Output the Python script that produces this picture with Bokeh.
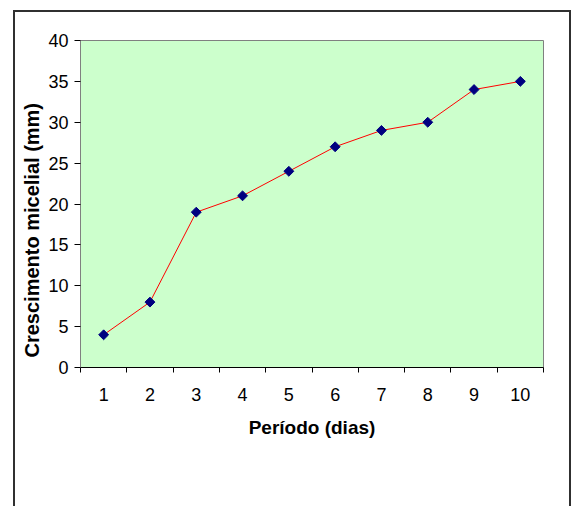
from bokeh.plotting import figure
from bokeh.models import FixedTicker, Range1d, Title
from bokeh.embed import file_html
from bokeh.resources import INLINE
import math

dias = [1, 2, 3, 4, 5, 6, 7, 8, 9, 10]
crescimento = [4, 8, 19, 21, 24, 27, 29, 30, 34, 35]
x_tick_labels = ["1", "2", "3", "4", "5", "6", "7", "8", "9", "10"]
y_ticks = [0, 5, 10, 15, 20, 25, 30, 35, 40]
x_title = "Período (dias)"
y_title = "Crescimento micelial (mm)"

FONT = "Liberation Sans"

p = figure(width=558, height=496, output_backend="svg", toolbar_location=None,
           x_range=Range1d(0.5, 10.5), y_range=Range1d(0, 40),
           min_border_left=65, min_border_top=28, min_border_right=30, min_border_bottom=141)
p.margin = (10, 0, 0, 13)
p.styles = {"border-top": "2px solid #303030", "border-left": "2px solid #303030",
            "border-right": "2px solid #303030"}

p.background_fill_color = "#CCFFCC"
p.border_fill_color = "white"
p.outline_line_color = "#808080"
p.outline_line_width = 1
p.xgrid.visible = False
p.ygrid.visible = False

p.line(dias, crescimento, line_color="#FF0000", line_width=1)
p.scatter(dias, crescimento, marker="square", angle=math.pi / 4, size=7,
          fill_color="#000080", line_color="#000080")

xa = p.xaxis[0]
xa.ticker = FixedTicker(ticks=dias, minor_ticks=[d - 0.5 for d in dias] + [10.5])
xa.major_label_overrides = {d: lab for d, lab in zip(dias, x_tick_labels)}
xa.major_tick_out = 0
xa.major_tick_in = 0
xa.minor_tick_out = 5
xa.minor_tick_in = 0
xa.minor_tick_line_color = "black"
xa.axis_line_color = "black"
xa.major_label_text_font = FONT
xa.major_label_text_font_size = "18px"
xa.major_label_text_color = "black"
xa.major_label_standoff = 15
xa.axis_label = x_title
xa.axis_label_text_font = FONT
xa.axis_label_text_font_size = "19px"
xa.axis_label_text_font_style = "bold"
xa.axis_label_text_color = "black"
xa.axis_label_standoff = 13

ya = p.yaxis[0]
ya.ticker = FixedTicker(ticks=y_ticks, minor_ticks=[])
ya.major_tick_out = 6
ya.major_tick_in = 0
ya.major_tick_line_color = "black"
ya.axis_line_color = "#808080"
ya.major_label_text_font = FONT
ya.major_label_text_font_size = "18px"
ya.major_label_text_color = "black"
ya.major_label_standoff = 6

t = Title(text=y_title, text_font=FONT, text_font_size="20px", text_font_style="bold",
          text_color="black", align="left", offset=10, standoff=6)
p.add_layout(t, "left")

open("out.html", "w").write(file_html(p, INLINE))
